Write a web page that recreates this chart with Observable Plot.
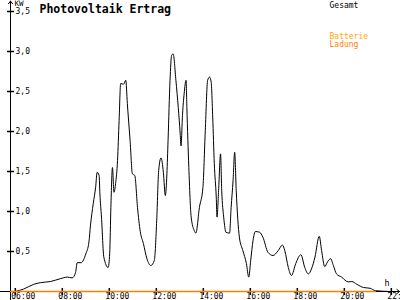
<!DOCTYPE html>
<html><head><meta charset="utf-8">
<script src="https://cdn.jsdelivr.net/npm/d3@7"></script>
<script src="https://cdn.jsdelivr.net/npm/@observablehq/plot@0.6"></script>
<style>html,body{margin:0;padding:0;background:#fff;} #chart svg{display:block;}</style>
</head><body><div id="chart"></div>
<script>
const title = "Photovoltaik Ertrag";
const unitY = "KW";
const unitX = "h";
const legendLabels = ["Gesamt", "Batterie", "Ladung"];
const legendColors = ["#000000", "#ffa800", "#ff7f00"];

const gesamtTimes = ["06:00","06:21","06:47","07:04","07:30","07:55","08:13","08:25","08:34","08:38",
"08:48","09:00","09:08","09:12","09:19","09:25","09:29","09:34","09:36","09:40",
"09:46","09:57","10:01","10:04","10:08","10:12","10:16","10:21","10:25","10:29",
"10:36","10:42","10:46","10:53","10:59","11:05","11:12","11:19","11:27","11:36",
"11:46","11:55","12:01","12:06","12:12","12:18","12:23","12:27","12:30","12:35",
"12:39","12:43","12:50","12:56","13:01","13:03","13:07","13:11","13:16","13:18",
"13:23","13:29","13:37","13:41","13:50","13:59","14:05","14:11","14:16","14:20",
"14:24","14:28","14:33","14:35","14:39","14:44","14:47","14:52","14:58","15:07",
"15:11","15:16","15:20","15:24","15:32","15:41","15:50","15:56","16:01","16:07",
"16:13","16:24","16:32","16:45","16:58","17:11","17:22","17:28","17:37","17:45",
"17:56","18:09","18:19","18:28","18:36","18:45","18:56","19:02","19:10","19:17",
"19:25","19:32","19:40","19:53","20:10","20:19","20:32","20:49","21:06","21:19",
"22:00"];
const gesamtKW = [0,0.03,0.09,0.11,0.125,0.16,0.18,0.17,0.24,0.36,
0.36,0.47,0.62,0.83,1.10,1.30,1.49,1.45,1.22,0.93,
0.43,0.30,0.48,1.05,1.55,1.24,1.35,1.64,2.14,2.60,
2.59,2.64,2.35,1.89,1.47,1.45,1.05,0.75,0.60,0.41,
0.325,0.39,0.89,1.51,1.67,1.49,1.20,1.47,1.89,2.64,
2.95,2.97,2.64,2.30,1.97,1.82,2.22,2.47,2.64,2.30,
1.55,0.93,0.76,0.73,1.05,1.30,2.01,2.64,2.68,2.62,
2.18,1.60,1.18,0.93,1.26,1.72,1.26,0.93,0.74,0.73,
1.05,1.39,1.74,1.26,0.68,0.51,0.35,0.18,0.39,0.64,
0.75,0.74,0.68,0.49,0.45,0.51,0.58,0.51,0.30,0.20,
0.35,0.46,0.30,0.22,0.28,0.43,0.69,0.51,0.31,0.37,
0.41,0.325,0.22,0.18,0.12,0.125,0.09,0.05,0.04,0.01,
0];
const ladungTimes = ["05:48", "21:19"];
const ladungKW = [0, 0];

const xTickLabels = ["06:00","08:00","10:00","12:00","14:00","16:00","18:00","20:00","22:00"];
const yTicks = [0.5, 1, 1.5, 2, 2.5, 3, 3.5];
const yTickLabels = ["0,5","1,0","1,5","2,0","2,5","3,0","3,5"];

const hours = s => { const [h, m] = s.split(":").map(Number); return h + m / 60; };
const gesamt = gesamtTimes.map((t, i) => ({t: hours(t), v: gesamtKW[i]}));
const ladung = ladungTimes.map((t, i) => ({t: hours(t), v: ladungKW[i]}));

const xDomain = [5.37, 22.39];
const yDomain = [-0.1125, 3.6375];
const yAxisAt = 5.796;
const xArrowEnd = 22.35;
const yArrowEnd = 3.63;

const font = "DejaVu Sans Mono";
const hDash = {draw(ctx) { ctx.moveTo(-3.5, 0); ctx.lineTo(3.5, 0); }};
const vDash = {draw(ctx) { ctx.moveTo(0, -3.5); ctx.lineTo(0, 3.5); }};

const chart = Plot.plot({
  width: 400, height: 300,
  marginLeft: 0, marginRight: 0, marginTop: 0, marginBottom: 0,
  style: {background: "white", fontFamily: font},
  x: {domain: xDomain, axis: null},
  y: {domain: yDomain, axis: null},
  marks: [
    Plot.arrow([0], {x1: () => yAxisAt, x2: () => yAxisAt, y1: () => yDomain[0], y2: () => yArrowEnd,
      stroke: "black", strokeWidth: 1, headLength: 5, headAngle: 75}),
    Plot.arrow([0], {x1: () => xDomain[0], x2: () => xArrowEnd, y1: () => 0, y2: () => 0,
      stroke: "black", strokeWidth: 1, headLength: 5, headAngle: 75}),
    Plot.dot(yTicks, {x: () => yAxisAt, y: d => d, symbol: hDash, stroke: "black", fill: "none"}),
    Plot.dot(xTickLabels, {x: d => hours(d), y: () => 0, symbol: vDash, stroke: "black", fill: "none"}),
    Plot.text(yTicks, {x: () => yAxisAt, y: d => d, text: (d, i) => yTickLabels[i], dx: 5,
      textAnchor: "start", lineAnchor: "middle", fontSize: 8, fontFamily: font, fill: "black"}),
    Plot.text(xTickLabels, {x: d => hours(d), y: () => 0, text: d => d, dx: -4, dy: 2,
      textAnchor: "start", lineAnchor: "top", fontSize: 8, fontFamily: font, fill: "black"}),
    Plot.text([unitY], {x: () => yAxisAt, y: () => 3.5, text: d => d, dx: 4, dy: -7.5,
      textAnchor: "start", lineAnchor: "middle", fontSize: 7.5, fontFamily: font, fill: "black"}),
    Plot.text([unitX], {x: () => xArrowEnd, y: () => 0, text: d => d, dx: -10, dy: -6,
      textAnchor: "end", lineAnchor: "bottom", fontSize: 8.5, fontFamily: font, fill: "black"}),
    Plot.line(gesamt, {x: "t", y: "v", stroke: legendColors[0], strokeWidth: 1, curve: "monotone-x"}),
    Plot.line(ladung, {x: "t", y: "v", stroke: legendColors[2], strokeWidth: 1.3}),
    Plot.text([title], {frameAnchor: "top-left", text: d => d, dx: 39, dy: 12, textAnchor: "start",
      lineAnchor: "bottom", fontSize: 11.5, fontWeight: "bold", fontFamily: font, fill: "black"}),
    Plot.text([legendLabels[0]], {frameAnchor: "top-left", text: d => d, dx: 329, dy: 7.5, textAnchor: "start",
      lineAnchor: "bottom", fontSize: 8, fontFamily: font, fill: legendColors[0]}),
    Plot.text([legendLabels[1]], {frameAnchor: "top-left", text: d => d, dx: 329, dy: 38.5, textAnchor: "start",
      lineAnchor: "bottom", fontSize: 8, fontFamily: font, fill: legendColors[1]}),
    Plot.text([legendLabels[2]], {frameAnchor: "top-left", text: d => d, dx: 329, dy: 46.8, textAnchor: "start",
      lineAnchor: "bottom", fontSize: 8, fontFamily: font, fill: legendColors[2]})
  ]
});
document.getElementById("chart").appendChild(chart);
</script>
</body></html>
